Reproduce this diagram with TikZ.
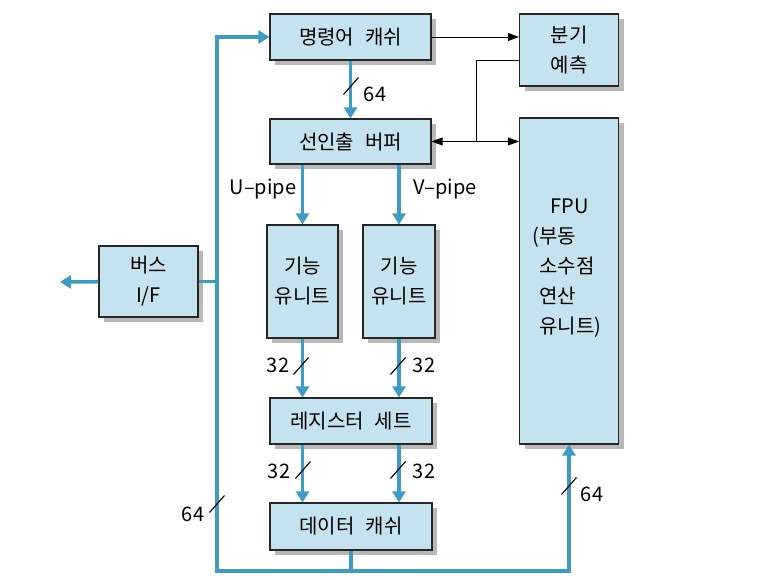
\documentclass[tikz,border=0pt]{standalone}
\usepackage{fontspec}
\setmainfont{Noto Sans CJK KR}
\usetikzlibrary{positioning,arrows.meta}

\definecolor{unitfill}{RGB}{197,227,238}
\definecolor{busline}{RGB}{62,155,196}

\tikzset{
	unit/.style={draw=black!85, line width=1.1pt, fill=unitfill, align=center, inner sep=0pt,
		preaction={draw=none, fill=black!28, transform canvas={shift={(5pt,-5pt)}}}},
	bus/.style={draw=busline, line width=3.6pt},
	busto/.style={bus, -{Triangle[width=13pt,length=11pt]}},
	busboth/.style={bus, {Triangle[width=13pt,length=11pt]}-{Triangle[width=13pt,length=11pt]}},
	ctrl/.style={draw=black, line width=.8pt},
	ctrlto/.style={ctrl, -{Triangle[width=8pt,length=11pt]}},
	slash/.style={draw=black, line width=1.1pt},
}

\begin{document}
\begin{tikzpicture}[x=1pt, y=-1pt, font=\fontsize{20pt}{30pt}\selectfont]
	\useasboundingbox (0,0) rectangle (773,580);

	% units
	\node[unit, minimum width=161pt, minimum height=46pt] (icache) at (350.5,37) {명령어\hspace{.55em}캐쉬};
	\node[unit, minimum width=99pt, minimum height=72pt] (bpu) at (569,50) {분기\\예측};
	\node[unit, minimum width=161pt, minimum height=45pt] (fifo) at (350.5,141.5) {선인출\hspace{.55em}버퍼};
	\node[unit, minimum width=99pt, minimum height=326pt] (fpu) at (569,281) {};
	\node[unit, minimum width=99pt, minimum height=71pt] (busif) at (148.5,281.5) {버스\\I/F};
	\node[unit, minimum width=71pt, minimum height=113pt] (fu1) at (302.5,281.5) {기능\\유니트};
	\node[unit, minimum width=72pt, minimum height=113pt] (fu2) at (399,281.5) {기능\\유니트};
	\node[unit, minimum width=162pt, minimum height=46pt] (regs) at (351,421) {레지스터\hspace{.55em}세트};
	\node[unit, minimum width=162pt, minimum height=47pt] (dcache) at (351,526.5) {데이터\hspace{.55em}캐쉬};

	\node[align=left, inner sep=0pt] (fpulbl) at (567,268.5)
		{\hspace{18pt}FPU\\(부동\\\phantom{(}소수점\\\phantom{(}연산\\\phantom{(}유니트)};

	% control lines
	\coordinate (jn) at (476,141.5);
	\draw[ctrlto] (icache.east) -- (icache.east -| bpu.west);
	\draw[ctrl] ([yshift=-10pt]bpu.west) -| (jn);
	\draw[ctrlto] (jn) -- (fifo.east);
	\draw[ctrlto] (jn) -- (jn -| fpu.west);

	% bus
	\coordinate (bustop) at (217,37);
	\coordinate (busbot) at (217,571);
	\coordinate (ext) at (60,282);
	\draw[busboth] (icache.west) -- (bustop) -- (busbot) -- (busbot -| fpu.south) -- (fpu.south);
	\draw[bus] (busif.east) -- (busif.east -| bustop);
	\draw[busto] (busif) -- (ext);
	\draw[bus] (dcache) -- (dcache |- busbot);

	% data paths
	\draw[busto] (icache) -- (fifo);
	\draw[busto] (fifo.south -| fu1) -- (fu1);
	\draw[busto] (fifo.south -| fu2) -- (fu2);
	\draw[busto] (fu1) -- (fu1 |- regs.north);
	\draw[busto] (fu2) -- (fu2 |- regs.north);
	\draw[busto] (regs.south -| fu1) -- (dcache.north -| fu1);
	\draw[busto] (regs.south -| fu2) -- (dcache.north -| fu2);

	\node (upipe) at (263,189) {U--pipe};
	\node (vpipe) at (445,189) {V--pipe};

	% widths
	\foreach \n/\x/\y in {c1/351/86, c2/301/366, c3/398/366, c4/303/470, c5/398/470, c6/217/504, c7/569/486}
		\draw[slash] ([shift={(-7.5pt,-8.5pt)}]\x,\y) coordinate (\n) -- ([shift={(7.5pt,8.5pt)}]\x,\y);
	\node (w1) at (375,94) {64};
	\node (w2) at (278,365) {32};
	\node (w3) at (424,365) {32};
	\node (w4) at (279,471) {32};
	\node (w5) at (424,471) {32};
	\node (w6) at (193,514) {64};
	\node (w7) at (592,494) {64};
\end{tikzpicture}
\end{document}
